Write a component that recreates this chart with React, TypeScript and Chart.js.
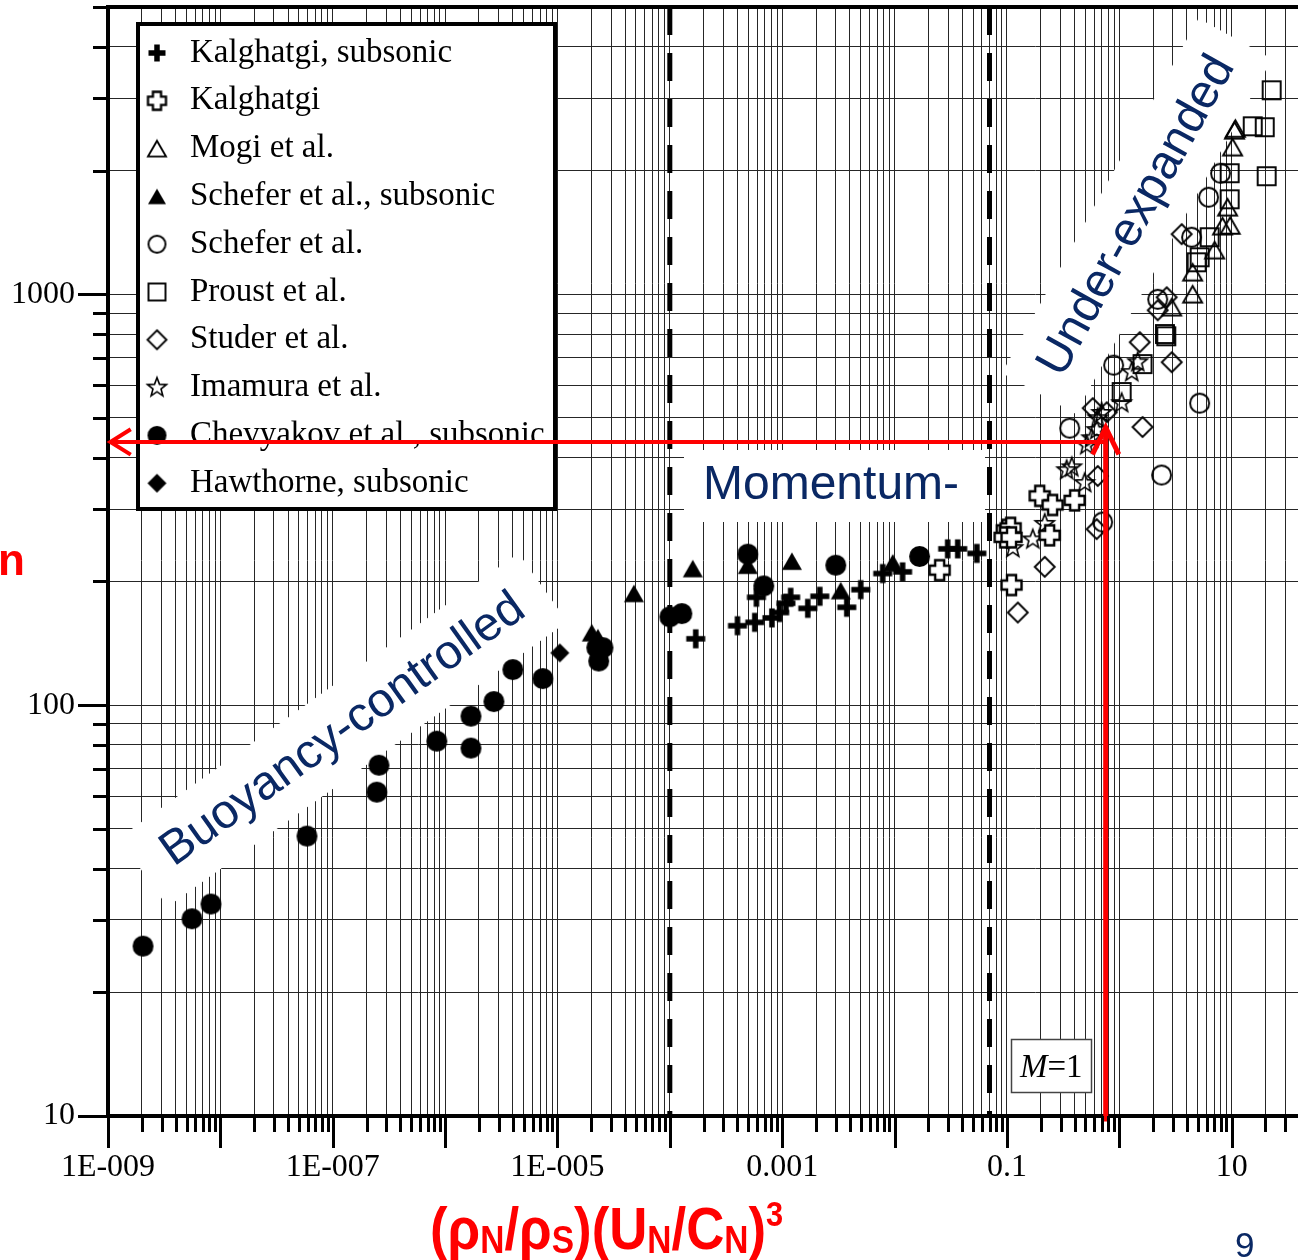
import React, { useEffect, useRef } from 'react';
import { Chart, registerables } from 'chart.js';

Chart.register(...registerables);

type Pt = [number, number];

// ---------------- data (x = (ρN/ρS)(UN/CN)^3, y = flame length ratio) ----------------
const KALGHATGI_SUBSONIC: Pt[] = [
  [1.7e-4, 145], [4.0e-4, 156], [5.7e-4, 159], [8.1e-4, 163], [9.5e-4, 168],
  [1.08e-3, 177], [1.19e-3, 183], [5.9e-4, 183], [1.69e-3, 172], [2.16e-3, 184],
  [3.76e-3, 173], [5.0e-3, 191], [7.85e-3, 209], [1.18e-2, 211], [2.97e-2, 240],
  [3.65e-2, 240], [5.4e-2, 234],
];
const KALGHATGI: Pt[] = [
  [2.52e-2, 213], [0.1, 267], [0.108, 270], [0.0955, 256], [0.11, 256],
  [0.196, 323], [0.255, 307], [0.401, 315], [0.24, 259], [0.11, 196],
];
const MOGI: Pt[] = [
  [4.5, 1000], [4.5, 1131], [2.93, 930], [7.06, 1280], [8.3, 1464],
  [9.2, 1628], [9.7, 1470], [10.2, 2280], [10.6, 2506], [10.8, 2530],
];
const SCHEFER_SUBSONIC: Pt[] = [
  [2.02e-5, 150], [2.29e-5, 146], [4.79e-5, 187], [1.6e-4, 215], [4.94e-4, 219],
  [1.22e-3, 224], [3.32e-3, 190], [9.64e-3, 222],
];
const SCHEFER: Pt[] = [
  [0.362, 472], [0.711, 279], [2.38, 363], [0.891, 672], [5.19, 543],
  [2.2, 972], [4.4, 1376], [6.24, 1722], [7.98, 1970],
];
const PROUST: Pt[] = [
  [1.05, 578], [1.61, 676], [2.55, 800], [2.62, 790], [4.88, 1196], [5.19, 1230],
  [6.37, 1376], [9.6, 1702], [9.6, 1970], [15.4, 2563], [19.7, 2549],
  [22.7, 3135], [20.5, 1937],
];
const STUDER: Pt[] = [
  [0.125, 168], [0.217, 217], [0.643, 361], [0.629, 268], [0.58, 528],
  [0.773, 516], [1.61, 475], [1.52, 764], [2.93, 683], [2.2, 914],
  [2.64, 983], [3.59, 1400],
];
const IMAMURA: Pt[] = [
  [0.113, 241], [0.17, 253], [0.217, 276], [0.34, 373], [0.378, 379],
  [0.492, 347], [0.513, 429], [0.568, 446], [0.629, 467], [0.643, 499],
  [0.697, 514], [1.05, 543], [1.29, 646], [1.46, 683],
];
const CHEVYAKOV: Pt[] = [
  [2.05e-9, 25.9], [5.59e-9, 30.2], [8.25e-9, 32.8], [5.9e-8, 48.0], [2.47e-7, 61.4],
  [2.58e-7, 71.4], [8.45e-7, 81.7], [1.7e-6, 94.0], [1.7e-6, 78.6], [2.72e-6, 102],
  [4.01e-6, 122], [7.41e-6, 116], [2.24e-5, 138], [2.54e-5, 138], [2.33e-5, 128],
  [1.0e-4, 164], [1.28e-4, 167], [4.94e-4, 233], [6.86e-4, 195], [3.0e-3, 219],
  [1.67e-2, 230],
];
const HAWTHORNE: Pt[] = [[1.05e-5, 134]];

// regime boundaries (dashed) and the red reading arrows
const REGIME_BOUNDARIES_X = [1e-4, 0.07];
const ARROW_H_Y = 437;
const ARROW_V_X = 0.757;
const ARROW_V_TOP = 474;
const ARROW_V_BOTTOM = 9.7;

// axes
const X_MIN = 1e-9;
const X_MAX = 100;
const Y_MIN = 10;
const Y_MAX = 5000;
const X_LABEL_EXPONENTS = [-9, -7, -5, -3, -1, 1];
const X_TICK_LABELS = ['1E-009', '1E-007', '1E-005', '0.001', '0.1', '10'];
const Y_LABEL_EXPONENTS = [1, 2, 3];
const Y_TICK_LABELS = ['10', '100', '1000'];

const SERIES_LABELS = [
  'Kalghatgi, subsonic', 'Kalghatgi', 'Mogi et al.', 'Schefer et al., subsonic',
  'Schefer et al.', 'Proust et al.', 'Studer et al.', 'Imamura et al.',
  'Chevyakov et al., subsonic', 'Hawthorne, subsonic',
];
const SERIES_DATA = [
  KALGHATGI_SUBSONIC, KALGHATGI, MOGI, SCHEFER_SUBSONIC, SCHEFER,
  PROUST, STUDER, IMAMURA, CHEVYAKOV, HAWTHORNE,
];

// ---------------- styling ----------------
const NAVY = '#0a2864';
const RED = '#ff0000';
const GRID = '#262626';
const SERIF = '"Liberation Serif", "Times New Roman", serif';
const SANS = '"Liberation Sans", Arial, sans-serif';
const CANVAS_W = 1360;
const CANVAS_H = 1260;

// marker kind, size, line width (chart), size, line width (legend)
const MARKERS: [string, number, number, number, number][] = [
  ['plusBold', 19, 5.5, 17, 5.5],
  ['plusOpen', 20, 2.4, 18, 2.3],
  ['triOpen', 19, 1.9, 18, 1.9],
  ['triFilled', 20, 1, 18, 1],
  ['circleOpen', 19, 1.9, 17, 1.9],
  ['squareOpen', 18, 1.9, 17, 1.9],
  ['diamondOpen', 20, 1.9, 19, 1.9],
  ['starOpen', 20, 1.6, 20, 1.6],
  ['circleFilled', 21, 1, 19, 1],
  ['diamondFilled', 19, 1, 19, 1],
];

function makeMarker(kind: string, s: number, lw: number): HTMLCanvasElement {
  const size = Math.ceil(s + lw * 2 + 4);
  const cv = document.createElement('canvas');
  cv.width = size;
  cv.height = size;
  const g = cv.getContext('2d') as CanvasRenderingContext2D;
  g.translate(size / 2, size / 2);
  g.lineWidth = lw;
  g.strokeStyle = '#000';
  g.fillStyle = '#000';
  g.lineJoin = 'miter';
  const h = s / 2;
  g.beginPath();
  switch (kind) {
    case 'plusBold':
      g.fillRect(-h, -lw / 2, s, lw);
      g.fillRect(-lw / 2, -h, lw, s);
      break;
    case 'plusOpen': {
      const b = s * 0.225;
      const p: Pt[] = [[-b, -h], [b, -h], [b, -b], [h, -b], [h, b], [b, b], [b, h], [-b, h], [-b, b], [-h, b], [-h, -b], [-b, -b]];
      p.forEach(([x, y], i) => (i ? g.lineTo(x, y) : g.moveTo(x, y)));
      g.closePath();
      g.fillStyle = '#fff';
      g.fill();
      g.stroke();
      break;
    }
    case 'triOpen':
    case 'triFilled': {
      const th = s * 0.87;
      g.moveTo(0, -th / 2);
      g.lineTo(h, th / 2);
      g.lineTo(-h, th / 2);
      g.closePath();
      if (kind === 'triFilled') g.fill();
      else g.stroke();
      break;
    }
    case 'circleOpen':
    case 'circleFilled':
      g.arc(0, 0, h, 0, Math.PI * 2);
      if (kind === 'circleFilled') g.fill();
      else g.stroke();
      break;
    case 'squareOpen':
      g.strokeRect(-h, -h, s, s);
      break;
    case 'diamondOpen':
    case 'diamondFilled':
      g.moveTo(0, -h);
      g.lineTo(h, 0);
      g.lineTo(0, h);
      g.lineTo(-h, 0);
      g.closePath();
      if (kind === 'diamondFilled') g.fill();
      else g.stroke();
      break;
    case 'starOpen': {
      const r = h * 0.42;
      for (let i = 0; i < 10; i++) {
        const a = -Math.PI / 2 + (i * Math.PI) / 5;
        const rr = i % 2 === 0 ? h : r;
        const x = Math.cos(a) * rr;
        const y = Math.sin(a) * rr;
        if (i === 0) g.moveTo(x, y);
        else g.lineTo(x, y);
      }
      g.closePath();
      g.stroke();
      break;
    }
  }
  return cv;
}

type Tick = { value: number; label: string; dec: boolean };
function logTicks(min: number, max: number, labeledExp: number[], labels: string[]): Tick[] {
  const out: Tick[] = [];
  const e0 = Math.round(Math.log10(min));
  const e1 = Math.ceil(Math.log10(max));
  for (let e = e0; e <= e1; e++) {
    for (let m = 1; m <= 9; m++) {
      const v = m * Math.pow(10, e);
      if (v > max * 1.000001) break;
      const li = m === 1 ? labeledExp.indexOf(e) : -1;
      out.push({ value: v, label: li >= 0 ? labels[li] : '', dec: m === 1 });
    }
  }
  return out;
}

function drawRotatedLabel(ctx: CanvasRenderingContext2D, text: string, cx: number, cy: number, deg: number, padX: number, boxH: number) {
  ctx.save();
  ctx.translate(cx, cy);
  ctx.rotate((deg * Math.PI) / 180);
  ctx.font = `48px ${SANS}`;
  const w = ctx.measureText(text).width;
  ctx.fillStyle = '#fff';
  ctx.fillRect(-w / 2 - padX, -boxH / 2, w + 2 * padX, boxH);
  ctx.fillStyle = NAVY;
  ctx.textAlign = 'center';
  ctx.textBaseline = 'middle';
  ctx.fillText(text, 0, 0);
  ctx.restore();
}

function buildChart(canvas: HTMLCanvasElement) {
  const xTicks = logTicks(X_MIN, X_MAX, X_LABEL_EXPONENTS, X_TICK_LABELS);
  const yTicks = logTicks(Y_MIN, Y_MAX, Y_LABEL_EXPONENTS, Y_TICK_LABELS);
  const chartIcons = MARKERS.map(([k, s, lw]) => makeMarker(k, s, lw));
  const legendIcons = MARKERS.map(([k, , , s, lw]) => makeMarker(k, s, lw));

  const datasets: any[] = [
    {
      label: 'arrowV',
      data: [{ x: ARROW_V_X, y: ARROW_V_BOTTOM }, { x: ARROW_V_X, y: ARROW_V_TOP }],
      showLine: true, borderColor: RED, borderWidth: 5, pointRadius: 0, clip: false, order: 0,
    },
    {
      label: 'arrowH',
      data: [{ x: X_MIN * 1.05, y: ARROW_H_Y }, { x: ARROW_V_X, y: ARROW_H_Y }],
      showLine: true, borderColor: RED, borderWidth: 4, pointRadius: 0, order: 0,
    },
    ...REGIME_BOUNDARIES_X.map((bx) => ({
      label: 'boundary',
      data: [{ x: bx, y: Y_MAX }, { x: bx, y: Y_MIN }],
      showLine: true, borderColor: '#000', borderWidth: 5, borderDash: [28, 18],
      borderCapStyle: 'butt', pointRadius: 0, order: 1,
    })),
    ...SERIES_DATA.map((pts, i) => ({
      label: SERIES_LABELS[i],
      data: pts.map(([x, y]) => ({ x, y })),
      pointStyle: chartIcons[i],
      pointRadius: 10,
      showLine: false,
      order: 2 + i,
    })),
  ];

  const annotationPlugin = {
    id: 'annotations',
    beforeDatasetsDraw(chart: any) {
      const ctx: CanvasRenderingContext2D = chart.ctx;
      ctx.save();
      // legend box
      const L = { x: 138, y: 24, w: 417, h: 485, row0: 53, gap: 47.8, mx: 157, tx: 190 };
      ctx.fillStyle = '#fff';
      ctx.fillRect(L.x, L.y, L.w, L.h);
      ctx.lineWidth = 4;
      ctx.strokeStyle = '#000';
      ctx.strokeRect(L.x, L.y, L.w, L.h);
      ctx.font = `33px ${SERIF}`;
      ctx.textBaseline = 'middle';
      ctx.textAlign = 'left';
      ctx.fillStyle = '#000';
      SERIES_LABELS.forEach((lab, i) => {
        const yy = L.row0 + i * L.gap;
        const ic = legendIcons[i];
        ctx.drawImage(ic, L.mx - ic.width / 2, yy - ic.height / 2);
        ctx.fillText(lab, L.tx, yy);
      });
      // regime labels
      drawRotatedLabel(ctx, 'Buoyancy-controlled', 343, 730, -35.5, 28, 84);
      drawRotatedLabel(ctx, 'Under-expanded', 1137, 216, -61, 24, 84);
      ctx.fillStyle = '#fff';
      ctx.fillRect(684, 450, 301, 72);
      ctx.fillStyle = NAVY;
      ctx.font = `48px ${SANS}`;
      ctx.textBaseline = 'alphabetic';
      ctx.textAlign = 'left';
      ctx.fillText('Momentum-', 703, 499);
      // M=1 box
      ctx.fillStyle = '#fff';
      ctx.fillRect(1011, 1039, 81, 54);
      ctx.strokeStyle = '#444';
      ctx.lineWidth = 1.5;
      ctx.strokeRect(1011.5, 1039.5, 80, 53);
      ctx.fillStyle = '#000';
      ctx.font = `italic 33px ${SERIF}`;
      ctx.fillText('M', 1020, 1077);
      const mw = ctx.measureText('M').width;
      ctx.font = `33px ${SERIF}`;
      ctx.fillText('=1', 1020 + mw, 1077);
      ctx.restore();
    },
  };

  const arrowPlugin = {
    id: 'arrowHeads',
    afterDatasetsDraw(chart: any) {
      const ctx: CanvasRenderingContext2D = chart.ctx;
      const head = (tip: any, from: any, len: number, ang: number, lw: number) => {
        const dx = tip.x - from.x;
        const dy = tip.y - from.y;
        const d = Math.hypot(dx, dy) || 1;
        const ux = dx / d;
        const uy = dy / d;
        const rot = (a: number) => ({
          x: tip.x - len * (ux * Math.cos(a) - uy * Math.sin(a)),
          y: tip.y - len * (ux * Math.sin(a) + uy * Math.cos(a)),
        });
        const a1 = rot(ang);
        const a2 = rot(-ang);
        ctx.save();
        ctx.strokeStyle = RED;
        ctx.lineWidth = lw;
        ctx.lineJoin = 'miter';
        ctx.lineCap = 'butt';
        ctx.beginPath();
        ctx.moveTo(a1.x, a1.y);
        ctx.lineTo(tip.x, tip.y);
        ctx.lineTo(a2.x, a2.y);
        ctx.stroke();
        ctx.restore();
      };
      const ds = chart.data.datasets;
      const iv = ds.findIndex((d: any) => d.label === 'arrowV');
      const ih = ds.findIndex((d: any) => d.label === 'arrowH');
      const mv = chart.getDatasetMeta(iv).data;
      const mh = chart.getDatasetMeta(ih).data;
      head(mv[1], mv[0], 30, (26 * Math.PI) / 180, 5);
      head(mh[0], mh[1], 24, (32 * Math.PI) / 180, 4);
    },
  };

  const tickPlugin = {
    id: 'tickMarks',
    afterDraw(chart: any) {
      const ctx: CanvasRenderingContext2D = chart.ctx;
      const a = chart.chartArea;
      const xs = chart.scales.x;
      const ys = chart.scales.y;
      ctx.save();
      ctx.strokeStyle = '#000';
      ctx.lineWidth = 3;
      ctx.beginPath();
      xTicks.forEach((t) => {
        const px = Math.round(xs.getPixelForValue(t.value)) + 0.5;
        ctx.moveTo(px, a.bottom);
        ctx.lineTo(px, a.bottom + (t.dec ? 32 : 16));
      });
      yTicks.forEach((t) => {
        const py = Math.round(ys.getPixelForValue(t.value)) + 0.5;
        ctx.moveTo(a.left, py);
        ctx.lineTo(a.left - (t.dec ? 30 : 15), py);
      });
      ctx.stroke();
      ctx.lineWidth = 4;
      ctx.beginPath();
      ctx.moveTo(a.left - 2, a.top);
      ctx.lineTo(a.right, a.top);
      ctx.stroke();
      ctx.restore();
    },
  };

  return new Chart(canvas, {
    type: 'scatter',
    data: { datasets },
    options: {
      responsive: false,
      animation: false,
      events: [],
      layout: { autoPadding: false, padding: { left: 0, right: CANVAS_W - 1344, top: 7, bottom: 0 } },
      plugins: { legend: { display: false }, tooltip: { enabled: false }, title: { display: false } },
      scales: {
        x: {
          type: 'logarithmic',
          position: 'bottom',
          min: X_MIN,
          max: X_MAX,
          afterBuildTicks: (s: any) => {
            s.ticks = xTicks.map((t) => ({ value: t.value, major: false }));
          },
          afterFit: (s: any) => {
            s.height = 144;
            s.paddingLeft = 0;
            s.paddingRight = 0;
          },
          ticks: {
            autoSkip: false, maxRotation: 0, minRotation: 0, padding: 32, color: '#000',
            font: { family: SERIF, size: 32 },
            callback: (_v: any, i: number) => (xTicks[i] ? xTicks[i].label : ''),
          },
          grid: { color: GRID, lineWidth: 1, drawTicks: false },
          border: { display: true, color: '#000', width: 4 },
        },
        y: {
          type: 'logarithmic',
          position: 'left',
          min: Y_MIN,
          max: Y_MAX,
          afterBuildTicks: (s: any) => {
            s.ticks = yTicks.map((t) => ({ value: t.value, major: false }));
          },
          afterFit: (s: any) => {
            s.width = 108;
            s.paddingTop = 0;
            s.paddingBottom = 0;
          },
          ticks: {
            autoSkip: false, padding: 33, color: '#000',
            font: { family: SERIF, size: 32 },
            callback: (_v: any, i: number) => (yTicks[i] ? yTicks[i].label : ''),
          },
          grid: { color: GRID, lineWidth: 1, drawTicks: false },
          border: { display: true, color: '#000', width: 4 },
        },
      },
    } as any,
    plugins: [annotationPlugin, arrowPlugin, tickPlugin],
  } as any);
}

const subStyle: React.CSSProperties = { fontSize: '38px', position: 'relative', top: '4px', lineHeight: 0 };
const supStyle: React.CSSProperties = { fontSize: '35px', position: 'relative', top: '-23px', lineHeight: 0 };

export default function App() {
  const ref = useRef<HTMLCanvasElement>(null);
  useEffect(() => {
    const chart = buildChart(ref.current as HTMLCanvasElement);
    return () => chart.destroy();
  }, []);
  return (
    <div style={{ position: 'absolute', left: 0, top: 0, width: 1298, height: 1260, overflow: 'hidden', background: '#fff' }}>
      <canvas ref={ref} width={CANVAS_W} height={CANVAS_H} style={{ position: 'absolute', left: 0, top: 0, width: CANVAS_W, height: CANVAS_H }} />
      <div style={{ position: 'absolute', left: -2, top: 538, font: `bold 44px ${SANS}`, lineHeight: '44px', color: RED, whiteSpace: 'nowrap' }}>n</div>
      <div
        style={{
          position: 'absolute', left: 430, top: 1199, font: `bold 60px ${SANS}`, lineHeight: '60px',
          color: RED, whiteSpace: 'nowrap', transform: 'scaleX(0.88)', transformOrigin: 'left top',
        }}
      >
        (ρ<span style={subStyle}>N</span>/ρ<span style={subStyle}>S</span>)(U<span style={subStyle}>N</span>/C<span style={subStyle}>N</span>)<span style={supStyle}>3</span>
      </div>
      <div style={{ position: 'absolute', left: 1235, top: 1227, font: `35px ${SANS}`, lineHeight: '35px', color: NAVY }}>9</div>
    </div>
  );
}
